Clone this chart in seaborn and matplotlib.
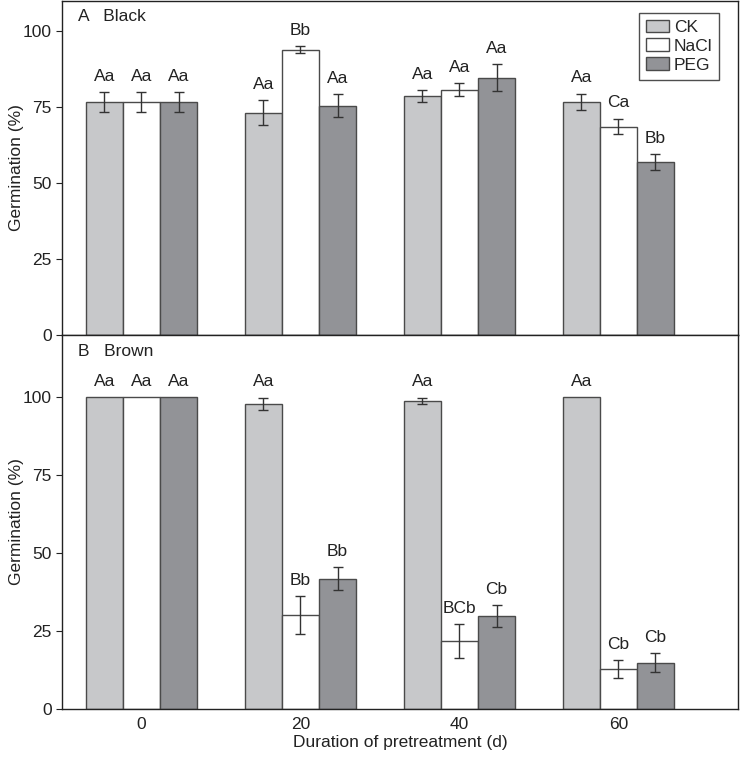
import numpy as np
import pandas as pd
import matplotlib
matplotlib.use("Agg")
import matplotlib.pyplot as plt
import seaborn as sns

sns.set_style("ticks")
plt.rcParams['font.family'] = ['Liberation Sans', 'DejaVu Sans']

days = ["0", "20", "40", "60"]
treatments = ["CK", "NaCl", "PEG"]

# Panel A: Black seeds
black_ck = [76.7, 73.2, 78.7, 76.8]
black_nacl = [76.7, 94.0, 80.8, 68.6]
black_peg = [76.7, 75.5, 84.7, 57.0]
black_ck_err = [3.3, 4.0, 2.0, 2.6]
black_nacl_err = [3.3, 1.2, 2.1, 2.6]
black_peg_err = [3.3, 3.8, 4.5, 2.6]
black_ck_lab = ["Aa", "Aa", "Aa", "Aa"]
black_nacl_lab = ["Aa", "Bb", "Aa", "Ca"]
black_peg_lab = ["Aa", "Aa", "Aa", "Bb"]

# Panel B: Brown seeds
brown_ck = [100.0, 97.8, 98.8, 100.0]
brown_nacl = [100.0, 30.2, 21.8, 12.8]
brown_peg = [100.0, 41.8, 29.8, 14.9]
brown_ck_err = [0.0, 2.0, 1.0, 0.0]
brown_nacl_err = [0.0, 6.0, 5.5, 2.9]
brown_peg_err = [0.0, 3.6, 3.5, 3.0]
brown_ck_lab = ["Aa", "Aa", "Aa", "Aa"]
brown_nacl_lab = ["Aa", "Bb", "BCb", "Cb"]
brown_peg_lab = ["Aa", "Bb", "Cb", "Cb"]

palette = {"CK": "#c7c8ca", "NaCl": "#ffffff", "PEG": "#929397"}
edge = "#4a4a4a"
FS = 12.5
TXT = "#222222"


def make_df(ck, nacl, peg):
    rows = []
    for t, vals in zip(treatments, [ck, nacl, peg]):
        for d, v in zip(days, vals):
            rows.append({"Day": d, "Treatment": t, "Germination": v})
    return pd.DataFrame(rows)


fig = plt.figure(figsize=(7.4, 7.58), dpi=100)
ax1 = fig.add_axes([0.0838, 0.5585, 0.913, 0.4402])
ax2 = fig.add_axes([0.0838, 0.0646, 0.913, 0.4939])

panels = [
    (ax1, (black_ck, black_nacl, black_peg),
     (black_ck_err, black_nacl_err, black_peg_err),
     (black_ck_lab, black_nacl_lab, black_peg_lab), 110, "A   Black"),
    (ax2, (brown_ck, brown_nacl, brown_peg),
     (brown_ck_err, brown_nacl_err, brown_peg_err),
     (brown_ck_lab, brown_nacl_lab, brown_peg_lab), 120, "B   Brown"),
]

for i, (ax, vals, errs, labs, ymax, title) in enumerate(panels):
    df = make_df(*vals)
    sns.barplot(data=df, x="Day", y="Germination", hue="Treatment",
                order=days, hue_order=treatments, palette=palette,
                edgecolor=edge, linewidth=1.0, width=0.7, errorbar=None,
                saturation=1, ax=ax, legend=(i == 0))
    for cont, ev, lv in zip(ax.containers, errs, labs):
        for bar, e, lab in zip(cont, ev, lv):
            xc = bar.get_x() + bar.get_width() / 2
            h = bar.get_height()
            if e > 0:
                ax.errorbar(xc, h, yerr=e, fmt="none", ecolor="#333333",
                            elinewidth=1.0, capsize=3.5, capthick=1.0)
            ax.annotate(lab, (xc, h + e), xytext=(0, 6),
                        textcoords="offset points", ha="center",
                        va="bottom", fontsize=FS, color=TXT)
    ax.set_xlim(-0.5, 3.75)
    ax.set_ylim(0, ymax)
    ax.set_yticks([0, 25, 50, 75, 100])
    ax.tick_params(axis="y", direction="out", length=4, labelsize=FS,
                   colors=TXT)
    ax.tick_params(axis="x", direction="in", length=5, labelsize=FS,
                   colors=TXT, pad=6)
    ax.set_ylabel("Germination (%)", fontsize=FS, color=TXT)
    ax.yaxis.set_label_coords(-0.056, 0.5)
    for s in ax.spines.values():
        s.set_visible(True)
        s.set_color(TXT)
        s.set_linewidth(1.0)
    ax.text(0.023, 0.975, title, transform=ax.transAxes, ha="left",
            va="top", fontsize=FS, color=TXT)

ax1.set_xlabel("")
ax1.set_xticks([])
ax2.set_xlabel("Duration of pretreatment (d)", fontsize=FS, color=TXT,
               labelpad=2)

leg = ax1.legend(loc="upper right", bbox_to_anchor=(0.973, 0.965),
                 borderaxespad=0, frameon=True, fancybox=False,
                 edgecolor=TXT, fontsize=FS, handlelength=1.3,
                 handleheight=0.75, handletextpad=0.3, borderpad=0.4,
                 labelspacing=0.2, title=None)
leg.get_frame().set_linewidth(1.0)

fig.savefig("out.png", dpi=100)
